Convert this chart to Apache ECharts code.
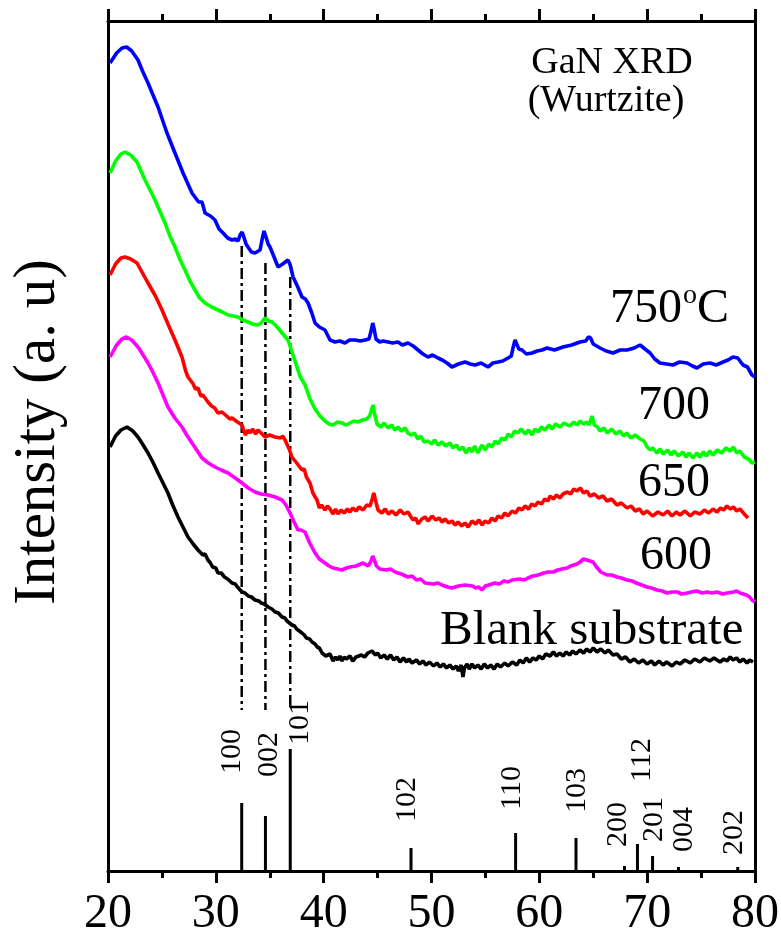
<!DOCTYPE html>
<html>
<head>
<meta charset="utf-8">
<title>GaN XRD</title>
<script src="https://cdn.jsdelivr.net/npm/echarts@6/dist/echarts.min.js"></script>
<style>
html, body { margin: 0; padding: 0; background: #fff; }
#chart { width: 781px; height: 937px; }
</style>
</head>
<body>
<div id="chart"></div>
<script>
// 2theta (deg) / intensity (a.u.)
var scan750 = [[20.19,808],[20.8,818],[21.3,823],[21.73,824],[22.2,820],[22.78,811],[23.2,800],[23.71,788],[24.64,764],[25.47,738],[26.21,718],[26.96,698],[27.79,678],[28.4,669],[28.72,669],[29.0,658],[29.5,655],[29.92,651],[30.3,642],[30.67,638],[31.1,633],[31.5,631],[31.8,632],[32.06,630],[32.25,636],[32.43,639],[32.6,634],[32.8,627],[32.98,624],[33.3,619],[33.63,618],[34.1,621],[34.3,632],[34.47,640],[34.65,634],[34.85,627],[35.02,624],[35.4,614],[35.77,604],[36.2,607],[36.69,611],[36.9,606],[37.16,594],[37.6,584],[37.99,574],[38.3,572],[38.55,568],[38.9,558],[39.2,548],[39.6,544],[40.12,541],[40.59,531],[41.05,529],[41.5,530],[41.98,528],[42.4,531],[42.91,531],[43.4,530],[43.83,531],[44.2,532],[44.4,540],[44.55,548],[44.7,541],[44.85,532],[45.2,529],[45.5,530],[45.97,529],[46.4,528],[46.89,529],[47.3,526],[47.82,528],[48.3,525],[48.75,521],[49.2,517],[49.68,514],[50.1,516],[50.6,513],[51.0,511],[51.44,508],[51.9,504],[52.5,507],[53.11,509],[53.6,507],[54.04,506],[54.6,508],[55.24,504],[55.7,508],[56.17,509],[56.6,510],[57.1,513],[57.4,515],[57.6,525],[57.75,531],[57.9,527],[58.1,522],[58.39,521],[58.8,517],[59.32,518],[59.8,520],[60.25,521],[60.71,523],[61.4,521],[62.2,524],[63.0,526],[63.77,529],[64.3,530],[64.55,534],[64.75,533],[65.0,527],[65.63,523],[66.2,520],[66.83,518],[67.5,521],[68.13,521],[68.8,523],[69.34,526],[69.8,522],[70.27,518],[70.7,512],[71.19,508],[71.8,507],[72.4,506],[73.0,509],[73.7,508],[74.2,505],[74.62,503],[75.2,507],[75.83,508],[76.4,506],[77.04,509],[77.5,511],[77.96,514],[78.4,513],[78.89,506],[79.3,504],[79.72,496],[80,494]];
var scan700 = [[20.19,698],[20.7,710],[21.2,717],[21.58,719],[22.1,716],[22.69,709],[23.43,691],[23.9,681],[24.36,671],[24.8,660],[25.29,648],[25.7,636],[26.21,624],[26.7,611],[27.14,601],[27.6,590],[28.07,581],[28.5,573],[29.0,568],[29.6,564],[30.2,561],[30.6,559],[31.13,556],[31.6,555],[32.06,554],[32.5,551],[32.98,549],[33.4,547],[33.91,546],[34.2,548],[34.56,553],[34.9,550],[35.21,549],[35.6,545],[36.14,538],[36.69,531],[37.0,521],[37.4,508],[37.8,495],[38.27,486],[38.73,472],[39.2,462],[39.66,455],[40.12,450],[40.5,447],[40.87,446],[41.3,449],[41.7,448],[42.1,446],[42.44,448],[42.8,450],[43.18,449],[43.6,451],[44.02,452],[44.3,456],[44.45,462],[44.58,466],[44.72,457],[44.95,447],[45.3,444],[45.6,448],[45.97,443],[46.3,446],[46.6,441],[46.9,444],[47.2,440],[47.54,443],[47.8,438],[48.1,436],[48.4,438],[48.75,432],[49.0,435],[49.3,429],[49.68,430],[50.0,427],[50.3,431],[50.6,426],[50.97,429],[51.3,425],[51.7,428],[52.0,423],[52.3,426],[52.6,421],[52.9,424],[53.2,418],[53.5,423],[53.76,419],[54.0,425],[54.3,418],[54.68,426],[55.0,421],[55.3,427],[55.61,424],[55.9,430],[56.2,427],[56.5,433],[56.82,431],[57.1,437],[57.4,434],[57.7,440],[58.02,438],[58.3,442],[58.7,437],[59.0,441],[59.32,436],[59.6,442],[59.9,439],[60.2,444],[60.53,441],[60.9,446],[61.2,442],[61.5,447],[61.92,444],[62.3,448],[62.8,445],[63.2,449],[63.5,446],[63.77,450],[64.1,447],[64.4,449],[64.6,446],[64.89,455],[65.1,446],[65.4,444],[65.63,440],[66.0,443],[66.3,438],[66.7,442],[67.1,437],[67.48,440],[67.8,435],[68.1,438],[68.5,433],[68.9,436],[69.34,432],[69.7,430],[70.0,424],[70.3,421],[70.54,423],[70.9,418],[71.2,422],[71.5,417],[71.9,421],[72.2,416],[72.5,420],[72.9,415],[73.3,419],[73.6,414],[73.9,418],[74.25,413],[74.6,418],[74.9,414],[75.2,419],[75.5,415],[75.8,420],[76.11,416],[76.5,421],[76.9,418],[77.3,423],[77.69,420],[78.0,424],[78.3,418],[78.61,420],[79.0,414],[79.4,412],[79.72,408],[80,409]];
var scan650 = [[20.19,596],[20.7,607],[21.2,613],[21.58,614],[22.1,612],[22.69,608],[23.2,598],[23.71,588],[24.4,575],[25.01,561],[25.6,546],[26.21,531],[26.86,514],[27.2,500],[27.42,494],[27.9,487],[28.1,482],[28.35,483],[28.6,475],[28.8,476],[29.27,469],[29.6,465],[29.9,463],[30.2,458],[30.57,459],[31.0,455],[31.3,452],[31.5,453],[32.0,449],[32.43,446],[32.6,440],[32.75,436],[32.98,441],[33.2,438],[33.4,442],[33.7,437],[33.91,441],[34.2,438],[34.56,434],[35.0,436],[35.49,434],[36.0,433],[36.2,435],[36.42,431],[36.8,422],[37.06,414],[37.5,408],[37.99,401],[38.2,402],[38.4,394],[38.73,388],[39.0,378],[39.38,371],[39.6,363],[39.8,366],[40.12,361],[40.35,365],[40.59,362],[40.87,357],[41.1,362],[41.33,357],[41.6,361],[41.9,358],[42.2,362],[42.44,359],[42.7,363],[43.0,360],[43.3,364],[43.65,361],[44.0,366],[44.3,365],[44.5,372],[44.65,378],[44.8,371],[45.04,361],[45.4,358],[45.7,362],[46.0,357],[46.34,360],[46.7,356],[47.1,361],[47.45,357],[47.82,359],[48.1,354],[48.3,351],[48.55,353],[48.75,347],[49.1,352],[49.4,354],[49.7,350],[50.05,355],[50.4,351],[50.7,353],[51.0,349],[51.25,352],[51.6,348],[51.9,350],[52.2,346],[52.46,349],[52.8,345],[53.1,348],[53.4,344],[53.76,350],[54.1,347],[54.4,351],[54.7,346],[54.96,350],[55.3,348],[55.6,353],[55.9,350],[56.17,355],[56.5,353],[56.8,358],[57.1,355],[57.47,360],[57.8,358],[58.1,363],[58.4,361],[58.67,365],[59.0,362],[59.3,367],[59.6,365],[59.88,369],[60.2,367],[60.5,372],[60.8,370],[60.99,375],[61.3,372],[61.6,376],[61.9,373],[62.2,377],[62.6,379],[62.9,377],[63.2,382],[63.49,380],[63.8,383],[64.1,378],[64.4,380],[64.7,375],[65.1,377],[65.5,373],[65.9,375],[66.28,370],[66.7,372],[67.2,366],[67.6,368],[68.13,363],[68.5,365],[68.9,360],[69.3,362],[69.62,357],[70.0,360],[70.5,355],[71.0,359],[71.47,356],[71.9,360],[72.3,355],[72.7,359],[73.05,356],[73.5,360],[74.0,355],[74.4,359],[74.9,357],[75.3,361],[75.7,358],[76.1,362],[76.48,359],[76.8,363],[77.1,361],[77.4,365],[77.69,362],[78.0,364],[78.3,360],[78.61,362],[79.0,357],[79.35,353]];
var scan600 = [[20.19,514],[20.8,526],[21.3,532],[21.7,534],[22.2,531],[22.78,524],[23.2,517],[23.71,508],[24.2,498],[24.64,488],[25.1,476],[25.56,464],[26.2,453],[26.86,444],[27.3,436],[27.79,428],[28.72,413],[29.3,408],[29.92,404],[30.5,401],[31.13,398],[31.8,393],[32.43,388],[33.0,383],[33.63,379],[34.2,377],[34.84,376],[35.5,374],[36.14,371],[36.5,366],[36.88,358],[37.3,348],[37.62,341],[37.9,341],[38.27,339],[38.7,328],[39.2,318],[39.6,312],[40.12,308],[40.5,305],[40.87,303],[41.3,302],[41.7,301],[42.1,303],[42.44,304],[43.0,305],[43.65,308],[44.11,305],[44.35,309],[44.55,315],[44.7,313],[44.9,305],[45.2,302],[45.8,301],[46.2,302],[46.62,299],[47.2,297],[47.82,294],[48.2,295],[48.6,291],[49.0,292],[49.4,288],[50.2,287],[50.6,288],[50.97,286],[51.5,284],[51.9,283],[52.5,285],[53.11,286],[53.8,285],[54.1,283],[54.4,284],[54.68,281],[55.0,285],[55.3,286],[55.89,288],[56.3,287],[56.7,290],[57.1,289],[57.47,291],[58.2,292],[58.6,291],[58.95,293],[59.4,295],[59.9,296],[60.4,298],[60.81,299],[61.3,299],[61.7,301],[62.1,302],[62.57,303],[62.9,305],[63.2,306],[63.5,307],[63.77,309],[64.1,312],[64.4,311],[64.7,310],[64.98,309],[65.3,304],[65.7,299],[66.28,296],[66.7,296],[67.2,294],[67.6,293],[68.13,291],[68.6,290],[69.0,288],[69.5,286],[69.99,284],[70.4,283],[70.9,281],[71.4,280],[71.84,278],[72.3,279],[72.8,279],[73.2,277],[73.7,278],[74.1,279],[74.6,280],[75.1,278],[75.55,279],[76.0,278],[76.5,279],[77.0,277],[77.41,278],[78.0,279],[78.3,280],[78.61,278],[79.2,276],[79.5,274],[79.72,271],[80,269]];
var scanBlank = [[20.19,424],[20.7,435],[21.2,441],[21.76,444],[22.3,440],[22.78,434],[23.2,427],[23.71,418],[24.2,408],[24.64,398],[25.1,388],[25.56,378],[26.0,366],[26.49,354],[27.0,343],[27.42,334],[27.9,327],[28.35,321],[28.8,316],[29.0,317],[29.27,311],[29.5,308],[29.7,304],[30.0,303],[30.2,298],[30.5,298],[30.8,294],[31.1,292],[31.5,288],[31.8,287],[32.0,284],[32.43,279],[32.7,278],[33.0,275],[33.3,274],[33.63,271],[34.0,270],[34.2,268],[34.5,267],[34.84,264],[35.2,262],[35.5,259],[35.8,258],[36.14,254],[36.4,253],[36.6,250],[37.06,246],[37.3,245],[37.5,242],[37.99,238],[38.2,236],[38.4,233],[38.7,232],[38.92,229],[39.2,227],[39.4,224],[39.6,223],[39.85,218],[40.2,215],[40.59,217],[40.87,210],[41.1,214],[41.3,211],[41.5,215],[41.7,210],[41.9,214],[42.1,212],[42.44,215],[42.7,210],[43.0,214],[43.18,212],[43.5,216],[43.8,214],[44.1,218],[44.48,220],[44.8,216],[45.0,218],[45.3,213],[45.6,216],[45.9,212],[46.2,216],[46.5,211],[46.8,214],[47.08,209],[47.4,213],[47.7,209],[47.9,212],[48.2,208],[48.6,211],[48.9,207],[49.2,210],[49.5,206],[49.8,209],[50.2,205],[50.5,208],[50.8,204],[51.1,207],[51.4,203],[51.7,206],[52.0,202],[52.3,205],[52.5,200],[52.75,206],[52.92,194],[53.05,203],[53.3,207],[53.5,202],[53.76,207],[54.0,203],[54.3,206],[54.6,202],[54.9,207],[55.2,203],[55.5,206],[55.8,202],[56.1,207],[56.4,204],[56.8,208],[57.1,205],[57.5,209],[57.9,206],[58.2,211],[58.5,208],[58.8,213],[59.1,209],[59.4,213],[59.7,211],[60.0,215],[60.3,212],[60.6,217],[60.99,215],[61.3,219],[61.6,215],[61.9,218],[62.2,215],[62.5,219],[62.8,216],[63.1,220],[63.4,217],[63.77,221],[64.1,218],[64.4,222],[64.7,219],[65.0,223],[65.35,219],[65.7,222],[66.1,218],[66.4,221],[66.83,216],[67.2,217],[67.6,212],[68.0,214],[68.41,209],[68.8,212],[69.2,208],[69.6,211],[69.99,207],[70.4,210],[70.7,206],[71.1,210],[71.47,206],[71.8,209],[72.3,205],[72.7,209],[73.05,207],[73.5,211],[74.0,208],[74.4,212],[74.9,209],[75.3,213],[75.8,210],[76.2,213],[76.76,209],[77.1,212],[77.4,210],[77.7,214],[77.96,211],[78.3,213],[78.6,209],[78.9,212],[79.26,208],[79.5,211],[79.82,209]];

// reference pattern (wurtzite GaN)
var refPos = [32.4, 34.6, 36.9, 48.1, 57.8, 63.4, 67.9, 69.1, 70.5, 72.9, 78.4];
var refInt = [68, 55, 122, 23, 38, 33, 5, 27, 15, 4, 4];
var refHkl = ['100', '002', '101', '102', '110', '103', '200', '112', '201', '004', '202'];

// dash-dot guides from main peaks
var guidePos = [32.4, 34.6, 36.9];
var guideTop = [625, 608, 594];
var guideBottom = 161;

var xTicks = [20, 30, 40, 50, 60, 70, 80];

var FONT = '"Liberation Serif", "Times New Roman", serif';

// label placement for hkl tags: [dx, lift above stick] in px
var tagShift = [[-10, 29], [4, 39], [10, 4], [-4, 26], [-3, 23], [1, 25], [-6, 19], [5, 62], [2, 14], [6, 15], [-4, 12]];

var chart = echarts.init(document.getElementById('chart'));

function renderStick(params, api) {
  var i = params.dataIndex;
  var base = api.coord([api.value(0), 0]);
  var top = api.coord([api.value(0), api.value(1)]);
  return {
    type: 'group',
    children: [{
      type: 'line',
      shape: { x1: base[0], y1: base[1], x2: top[0], y2: top[1] },
      style: { stroke: '#000', lineWidth: 3 }
    }, {
      type: 'text',
      x: top[0] + tagShift[i][0],
      y: top[1] - tagShift[i][1],
      rotation: Math.PI / 2,
      style: { text: refHkl[i], font: '30px ' + FONT, fill: '#000', align: 'left', verticalAlign: 'middle' }
    }]
  };
}

function curve(name, data, color) {
  return {
    name: name, type: 'line', data: data, showSymbol: false, silent: true,
    lineStyle: { color: color, width: 3.6 }, z: 3
  };
}

var series = [
  curve('750', scan750, '#0000ff'),
  curve('700', scan700, '#00ff00'),
  curve('650', scan650, '#ff0000'),
  curve('600', scan600, '#ff00ff'),
  curve('blank', scanBlank, '#000000'),
  {
    type: 'custom', renderItem: renderStick, silent: true,
    data: refPos.map(function (p, i) { return [p, refInt[i]]; }), z: 4
  }
];
guidePos.forEach(function (p, i) {
  series.push({
    type: 'line', showSymbol: false, silent: true, z: 2,
    data: [[p, guideTop[i]], [p, guideBottom]],
    lineStyle: { color: '#000', width: 2.5, type: [11, 4, 3, 4] }
  });
});

var tickStyle = { color: '#000', width: 3 };

function label(text, x, y, size, align) {
  return {
    type: 'text', x: x, y: y,
    style: { text: text, font: size + 'px ' + FONT, fill: '#000', align: align || 'left', verticalAlign: 'middle' }
  };
}

chart.setOption({
  backgroundColor: '#fff',
  animation: false,
  grid: { left: 108, right: 26, top: 21, bottom: 66, outerBoundsMode: 'none' },
  xAxis: [{
    type: 'value', min: xTicks[0], max: xTicks[xTicks.length - 1], interval: 10,
    axisLine: { onZero: false, lineStyle: tickStyle },
    axisTick: { length: 12, lineStyle: tickStyle },
    minorTick: { show: true, splitNumber: 2, length: 7, lineStyle: tickStyle },
    splitLine: { show: false },
    axisLabel: { color: '#000', fontFamily: FONT, fontSize: 48, margin: 19 }
  }, {
    type: 'value', position: 'top', min: xTicks[0], max: xTicks[xTicks.length - 1], interval: 10,
    axisLine: { onZero: false, lineStyle: tickStyle },
    axisTick: { length: 12, lineStyle: tickStyle },
    minorTick: { show: true, splitNumber: 2, length: 7, lineStyle: tickStyle },
    splitLine: { show: false },
    axisLabel: { show: false }
  }],
  yAxis: [{
    type: 'value', min: 0, max: 850,
    axisLine: { show: true, onZero: false, lineStyle: tickStyle },
    axisTick: { show: false }, axisLabel: { show: false }, splitLine: { show: false }
  }, {
    type: 'value', position: 'right', min: 0, max: 850,
    axisLine: { show: true, onZero: false, lineStyle: tickStyle },
    axisTick: { show: false }, axisLabel: { show: false }, splitLine: { show: false }
  }],
  graphic: [
    {
      type: 'text', x: 38, y: 432, rotation: Math.PI / 2,
      style: { text: 'Intensity (a. u)', font: '59px ' + FONT, fill: '#000', align: 'center', verticalAlign: 'middle' }
    },
    label('GaN XRD', 612, 63, 38, 'center'),
    label('(Wurtzite)', 606, 101, 38, 'center'),
    label('750', 610, 309, 48),
    label('o', 683, 296, 28),
    label('C', 697, 309, 48),
    label('700', 638, 406, 48),
    label('650', 638, 483, 48),
    label('600', 640, 556, 48),
    label('Blank substrate', 440, 631, 49)
  ],
  series: series
});
</script>
</body>
</html>
